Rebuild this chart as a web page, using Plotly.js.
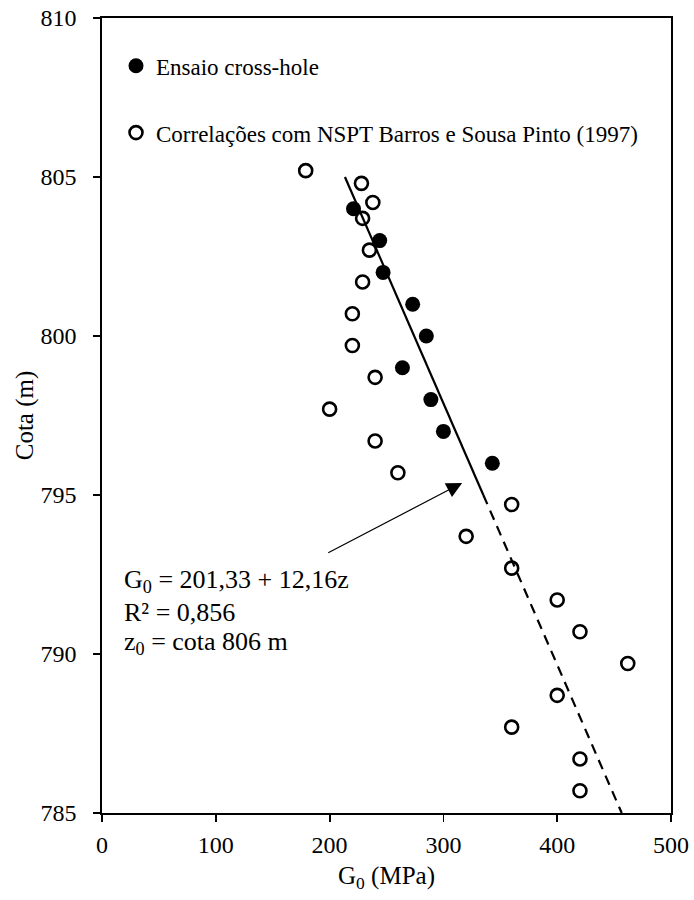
<!DOCTYPE html>
<html>
<head>
<meta charset="utf-8">
<script src="https://cdn.plot.ly/plotly-3.0.1.min.js"></script>
<style>
  html, body { margin: 0; padding: 0; background: #ffffff; }
  #chart { width: 694px; height: 900px; }
</style>
</head>
<body>
<div id="chart"></div>
<script>
// Cross-hole test results: shear modulus G0 (MPa) against elevation (m)
const crossHoleCota = [804, 803, 802, 801, 800, 799, 798, 797, 796];
const crossHoleG0   = [221, 244, 247, 273, 285, 264, 289, 300, 343];

// G0 from NSPT correlations (Barros e Sousa Pinto, 1997)
const nsptCota = [805.2, 804.8, 804.2, 803.7, 802.7, 801.7, 800.7, 799.7, 798.7, 797.7, 796.7,
                  795.7, 794.7, 793.7, 792.7, 791.7, 790.7, 789.7, 788.7, 787.7, 786.7, 785.7];
const nsptG0   = [179, 228, 238, 229, 235, 229, 220, 220, 240, 200, 240,
                  260, 360, 320, 360, 400, 420, 462, 400, 360, 420, 420];

// Linear fit G0 = a + b*z, with z measured down from the reference elevation
const fitIntercept = 201.33;
const fitSlope = 12.16;
const fitZ0 = 806;
const fitSolidCota = [805, 795];   // fitted range (solid)
const fitDashedCota = [795, 785];  // extrapolation (dashed)

// Arrow pointing from the equation block to the fitted line
const arrowTail = [197.5, 793.16];
const arrowHead = [316.5, 795.38];

// Axis ticks
const xTicks = [0, 100, 200, 300, 400, 500];
const yTicks = [785, 790, 795, 800, 805, 810];

const fitG = c => fitIntercept + fitSlope * (fitZ0 - c);

const FONT = 'Liberation Serif, Times New Roman, serif';

const traces = [
  {
    x: crossHoleG0, y: crossHoleCota,
    type: 'scatter', mode: 'markers',
    name: 'Ensaio cross-hole',
    legendgroup: 'a',
    marker: { symbol: 'circle', size: 15, color: '#000000' }
  },
  {
    x: nsptG0, y: nsptCota,
    type: 'scatter', mode: 'markers',
    name: 'Correlações com NSPT Barros e Sousa Pinto (1997)',
    legendgroup: 'b',
    marker: { symbol: 'circle-open', size: 13, color: '#000000', line: { width: 2.6, color: '#000000' } }
  },
  {
    x: fitSolidCota.map(fitG), y: fitSolidCota,
    type: 'scatter', mode: 'lines', showlegend: false, legendgroup: 'c',
    line: { color: '#000000', width: 2.2 }
  },
  {
    x: fitDashedCota.map(fitG), y: fitDashedCota,
    type: 'scatter', mode: 'lines', showlegend: false, legendgroup: 'c',
    line: { color: '#000000', width: 2.2, dash: '10px,7px' }
  }
];

const axisCommon = {
  showgrid: false, zeroline: false,
  showline: true, linecolor: '#000000', linewidth: 1.8, mirror: true,
  ticks: 'outside', ticklen: 7, tickwidth: 1.8, tickcolor: '#000000',
  tickfont: { family: FONT, size: 24, color: '#000000' },
  automargin: false
};

const layout = {
  width: 694, height: 900,
  margin: { l: 101.5, r: 22.5, t: 18, b: 86.5 },
  paper_bgcolor: '#ffffff', plot_bgcolor: '#ffffff',
  font: { family: FONT, color: '#000000' },
  xaxis: Object.assign({}, axisCommon, {
    range: [0, 500], tickvals: xTicks, ticktext: xTicks.map(String),
    ticklabelstandoff: 2,
    title: { text: 'G<sub>0</sub> (MPa)', font: { family: FONT, size: 25, color: '#000000' }, standoff: 10 }
  }),
  yaxis: Object.assign({}, axisCommon, {
    range: [785, 810], tickvals: yTicks, ticktext: yTicks.map(String),
    ticklabelstandoff: 12,
    title: { text: 'Cota (m)', font: { family: FONT, size: 25, color: '#000000' }, standoff: 0 }
  }),
  showlegend: true,
  legend: {
    x: 0.0246, y: 0.967, xanchor: 'left', yanchor: 'top',
    traceorder: 'grouped', tracegroupgap: 34,
    font: { family: FONT, size: 23, color: '#000000' },
    bgcolor: 'rgba(0,0,0,0)', borderwidth: 0
  },
  annotations: [
    {
      x: arrowHead[0], y: arrowHead[1], xref: 'x', yref: 'y',
      ax: arrowTail[0], ay: arrowTail[1], axref: 'x', ayref: 'y',
      text: '', showarrow: true,
      arrowhead: 2, arrowsize: 2.6, arrowwidth: 1.2, arrowcolor: '#000000', standoff: 0
    },
    {
      x: 18, y: 792.31, xref: 'x', yref: 'y', xanchor: 'left', yanchor: 'middle',
      text: 'G<sub>0</sub> = 201,33 + 12,16z', showarrow: false,
      font: { family: FONT, size: 26, color: '#000000' }
    },
    {
      x: 18, y: 791.30, xref: 'x', yref: 'y', xanchor: 'left', yanchor: 'middle',
      text: 'R² = 0,856', showarrow: false,
      font: { family: FONT, size: 26, color: '#000000' }
    },
    {
      x: 18, y: 790.36, xref: 'x', yref: 'y', xanchor: 'left', yanchor: 'middle',
      text: 'z<sub>0</sub> = cota 806 m', showarrow: false,
      font: { family: FONT, size: 26, color: '#000000' }
    }
  ]
};

Plotly.newPlot('chart', traces, layout, { displayModeBar: false, staticPlot: true });
</script>
</body>
</html>
